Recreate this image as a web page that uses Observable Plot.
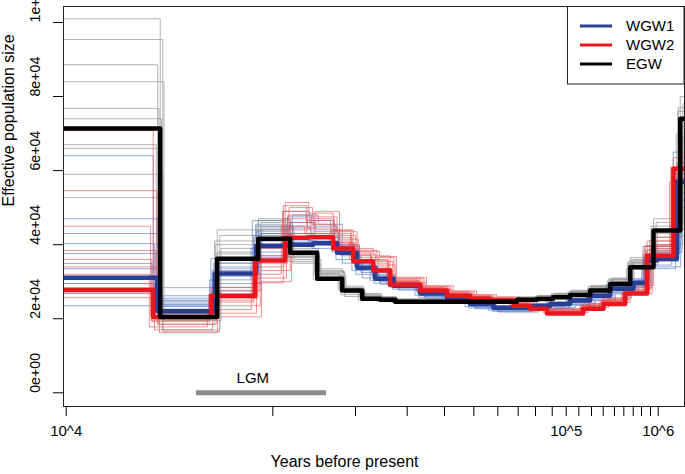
<!DOCTYPE html>
<html><head><meta charset="utf-8">
<script src="https://cdn.jsdelivr.net/npm/d3@7"></script>
<script src="https://cdn.jsdelivr.net/npm/@observablehq/plot@0.6"></script>
<style>body{margin:0;background:#fff;font-family:"Liberation Sans",Arial,sans-serif}</style>
</head><body><div id="chart"></div>
<script>
// ---- data (times in thousands of years, Ne in thousands) ----
const seriesNames = ["WGW1", "WGW2", "EGW"];
const seriesColors = ["#283f94", "#e8161d", "#000000"];
const bootColors = ["#4a72c8", "#ea4a4a", "#9a9a9a"];

const egwTimes = [1, 20.78, 32.37, 44.54, 57.11, 70.47, 85.6, 100, 115, 129.3, 333.2, 389.3, 441, 504.3, 589.3, 688.4, 804.3, 964, 1187];
const egwNe    = [71.4, 20.5, 36.2, 41.6, 37.8, 30.8, 27.6, 25.4, 25.1, 24.6, 25.1, 25.3, 25.8, 26.4, 27.6, 29.4, 33.9, 43.8, 74];

const wgw1Times = [1, 20.3, 31.75, 43.85, 55.8, 68.3, 82.34, 96.19, 110.7, 127.6, 157.1, 193.3, 231.7, 277.7, 379.1, 431.6, 504.3, 589.3, 688.4, 825.2, 915.8, 989.9, 1157];
const wgw1Ne    = [31.1, 22.0, 32.2, 39.7, 40.0, 40.4, 37.8, 33.8, 30.8, 28.9, 26.8, 25.7, 24.0, 23.0, 23.5, 24.0, 24.9, 26.2, 28.1, 29.7, 35.7, 36.2, 57];

const wgw2Times = [1, 19.67, 30.9, 43.5, 54.94, 66, 79.8, 93.24, 108.9, 124.3, 157.1, 193.3, 231.7, 270.7, 324.4, 369.5, 420.7, 558, 653.5, 773.5, 918, 1126];
const wgw2Ne    = [27.8, 20.5, 26.2, 35.7, 41.9, 42.0, 39.0, 35.5, 33.0, 29.2, 27.6, 26.2, 25.4, 24.9, 23.5, 22.7, 21.4, 22.7, 24.0, 26.8, 37.0, 60.5];

const endTime = 3000;

// bootstrap replicates: time scale of each replicate, then its Ne per interval
const egwBootScale = [1.00, 1.02, 0.98, 1.03, 0.99, 1.01, 0.97, 1.02, 1.00, 0.985];
const egwBoot = [
  [101, 28.4, 44, 47, 38.5, 33.5, 28.4, 26.5, 25.8, 25.2, 25.8, 26.2, 26.8, 27.5, 28.8, 30.8, 36.5, 47, 80],
  [95.4, 17, 42.5, 46, 37, 32.5, 28, 26, 25.5, 25, 25.5, 26, 26.5, 27.2, 28.4, 30.5, 35.7, 46, 78],
  [88.6, 18.5, 41, 45.5, 36.5, 32, 27.5, 25.8, 25.3, 24.9, 25.4, 25.8, 26.3, 27, 28.2, 30.2, 35, 45, 76],
  [84, 19.5, 39, 44.5, 36, 31.5, 27, 25.5, 25.2, 24.8, 25.3, 25.6, 26.2, 26.8, 28, 30, 34.5, 44, 75],
  [76.8, 21, 37.5, 44, 35.5, 31, 26.5, 25.2, 25, 24.6, 25.2, 25.5, 26, 26.6, 27.8, 29.6, 34, 43, 73],
  [74, 22.5, 36.5, 43, 39, 33, 28.8, 26.8, 26, 25.4, 25.9, 26.3, 26.9, 27.7, 29, 31, 36, 42, 72],
  [67, 23.5, 35, 42, 37.5, 30.5, 27.8, 25, 24.8, 24.4, 25, 25.3, 25.8, 26.4, 27.6, 29.3, 33.5, 41, 70],
  [59, 16.5, 33.5, 45, 35, 32.8, 26, 26.2, 25.6, 25.1, 25.6, 26, 26.6, 27.3, 28.6, 30.6, 35.2, 40, 69],
  [52.7, 20, 38, 46.5, 38, 31.8, 27.2, 25.6, 25.3, 24.8, 25.4, 25.7, 26.2, 26.9, 28.1, 30.1, 34.8, 39, 68],
  [66, 24.5, 40, 43.5, 36.8, 32.2, 28.2, 26.4, 25.7, 25.1, 25.6, 26.1, 26.7, 27.4, 28.7, 30.7, 35.4, 38, 77]
];

const wgw1BootScale = [0.97, 1.0, 1.02, 0.98, 1.01, 0.96, 1.03, 0.99, 1.04, 0.975];
const wgw1Boot = [
  [64, 26.2, 36.2, 46.5, 49, 46.5, 40.5, 35.7, 32.5, 30, 27.5, 26.3, 24.5, 23.5, 24, 24.5, 25.5, 27, 29, 30.8, 39.5, 39.5, 65],
  [47, 25.5, 35, 45, 47.5, 45, 40, 35, 32, 29.8, 27.3, 26, 24.3, 23.2, 23.8, 24.3, 25.3, 26.7, 28.7, 30.5, 38.5, 38.5, 62],
  [43, 24.8, 34, 44, 46, 44, 39.5, 34.5, 31.6, 29.5, 27, 25.8, 24, 23, 23.5, 24, 25, 26.4, 28.4, 30.2, 37.5, 37.5, 60],
  [40.3, 24, 33, 42.5, 44.5, 43, 39, 34, 31.2, 29.2, 26.8, 25.5, 23.8, 22.8, 23.3, 23.8, 24.8, 26.2, 28.2, 30, 36.5, 36.5, 58],
  [37.6, 23.3, 31.5, 41, 43, 42, 38.5, 33.5, 30.8, 28.9, 26.5, 25.3, 23.5, 22.5, 23, 23.5, 24.5, 25.9, 27.8, 29.6, 35.5, 35.5, 56],
  [34.9, 22.6, 30.5, 39, 42, 41, 38, 33, 30.4, 28.6, 26.3, 25, 23.3, 22.3, 22.8, 23.3, 24.3, 25.6, 27.5, 29.3, 34.5, 34.5, 54],
  [33.5, 21.5, 29.5, 38, 41, 40, 37, 32.5, 30, 28.3, 26, 24.8, 23.1, 22.1, 22.6, 23, 24, 25.3, 27.2, 29, 34, 34, 52],
  [29.5, 25, 28.5, 37, 45, 39, 36, 32, 29.6, 28, 25.8, 24.5, 22.9, 22, 22.4, 22.8, 23.8, 25, 27, 28.7, 33.5, 33.5, 50],
  [26.8, 23.8, 27.6, 43, 48, 45.5, 35, 31, 29.3, 27.7, 25.5, 24.3, 22.7, 21.8, 22.2, 22.6, 23.6, 24.8, 26.7, 28.4, 38, 38, 61],
  [23.5, 20.5, 26, 36.5, 40.5, 42.5, 39.8, 34.8, 31.5, 29.4, 27.1, 25.9, 24.1, 23.1, 23.6, 24.1, 25.1, 26.5, 28.5, 30.1, 37, 37, 59]
];

const wgw2BootScale = [1.0, 1.03, 0.98, 1.02, 0.99, 1.04, 0.97, 1.01, 1.05, 0.985];
const wgw2Boot = [
  [70.8, 22, 28.4, 39, 51.4, 48.5, 44, 39, 37, 31, 28.8, 27.4, 26.4, 25.8, 24.5, 23.8, 22.6, 24, 25.5, 28.5, 41, 63.5],
  [54.6, 21.5, 27.5, 37, 50, 47.5, 43.5, 38.5, 36.5, 30.8, 28.6, 27.2, 26.2, 25.6, 24.3, 23.6, 22.4, 23.8, 25.2, 28, 40, 62],
  [45, 20.8, 26.5, 36, 49, 46.5, 43, 38, 36, 30.5, 28.4, 27, 26, 25.4, 24.1, 23.4, 22.2, 23.6, 25, 27.6, 39.5, 61],
  [38.4, 20, 25.5, 35, 48, 45.5, 42.5, 37.5, 35.5, 30.2, 28.2, 26.8, 25.9, 25.3, 23.9, 23.2, 22, 23.4, 24.8, 27.3, 39, 60],
  [36, 19.2, 24.5, 34, 47, 44.5, 42, 37, 35, 30, 28, 26.6, 25.7, 25.1, 23.8, 23, 21.8, 23.2, 24.6, 27, 38.5, 59],
  [34, 18.5, 23.5, 33, 46, 43.5, 41.5, 36.5, 34.5, 29.8, 27.9, 26.5, 25.6, 25, 23.7, 22.9, 21.7, 23, 24.4, 26.8, 38, 58],
  [32, 17.8, 22.5, 32, 45, 43, 41, 36, 34, 29.6, 27.8, 26.4, 25.5, 24.9, 23.6, 22.8, 21.6, 22.9, 24.2, 26.6, 37.5, 57],
  [29.5, 17, 21.5, 31, 44, 47, 40.5, 35.8, 33.5, 29.4, 27.7, 26.3, 25.4, 24.8, 23.5, 22.7, 21.5, 22.8, 24.1, 26.5, 37, 56],
  [27, 16.2, 20.5, 30, 43, 49, 40, 38.2, 36.8, 31.2, 28.9, 27.5, 26.5, 25.9, 24.6, 23.9, 22.7, 24.1, 25.6, 29, 42, 64],
  [25.7, 19.6, 25, 29.7, 50.5, 42.5, 43.8, 37.2, 35.8, 30.4, 28.3, 26.9, 26, 25.4, 24, 23.3, 22.1, 23.5, 24.9, 27.8, 39.8, 60.5]
];

const xTicks = [10000, 49890, 94920, 141900, 189700, 238300, 287200, 336500, 385000, 438500, 488900, 539200, 595300, 652000, 711700, 765300, 823300, 878200, 941900, 1000000];
const xTickLabels = ["10^4", "", "", "", "", "", "", "", "", "", "10^5", "", "", "", "", "", "", "", "", "10^6"];
const yTicks = [0, 20000, 40000, 60000, 80000, 100000];
const yTickLabels = ["0e+00", "2e+04", "4e+04", "6e+04", "8e+04", "1e+05"];

const lgmStart = 27550, lgmEnd = 75740, lgmLabelX = 42700, lgmLabelY = 4000;

// ---- build tables ----
function steps(times, ne, scale, id) {
  const rows = times.map((t, i) => ({t: (i === 0 ? t : t * scale) * 1000, ne: ne[i] * 1000, id}));
  rows.push({t: endTime * 1000, ne: ne[ne.length - 1] * 1000, id});
  return rows;
}
const bootRows = (times, boots, scales, name) =>
  boots.flatMap((b, k) => steps(times, b, scales[k], name + "-" + k));

const egwBootRows = bootRows(egwTimes, egwBoot, egwBootScale, "egw");
const w1BootRows = bootRows(wgw1Times, wgw1Boot, wgw1BootScale, "w1");
const w2BootRows = bootRows(wgw2Times, wgw2Boot, wgw2BootScale, "w2");
const w1Main = steps(wgw1Times, wgw1Ne, 1, "w1");
const w2Main = steps(wgw2Times, wgw2Ne, 1, "w2");
const egwMain = steps(egwTimes, egwNe, 1, "egw");

const font = "Liberation Sans, Arial, Helvetica, sans-serif";

const svg = Plot.plot({
  width: 685, height: 474,
  marginLeft: 63, marginRight: 1, marginTop: 6, marginBottom: 68,
  style: {fontFamily: font, fontSize: "15px", background: "white", overflow: "visible"},
  x: {type: "log", domain: [9792, 1227000]},
  y: {domain: [-3700, 104320]},
  marks: [
    Plot.line(egwBootRows, {x: "t", y: "ne", z: "id", curve: "step-after", stroke: bootColors[2], strokeWidth: 1, strokeOpacity: 0.75, clip: true}),
    Plot.line(w1BootRows, {x: "t", y: "ne", z: "id", curve: "step-after", stroke: bootColors[0], strokeWidth: 1, strokeOpacity: 0.6, clip: true}),
    Plot.line(w2BootRows, {x: "t", y: "ne", z: "id", curve: "step-after", stroke: bootColors[1], strokeWidth: 1, strokeOpacity: 0.6, clip: true}),
    Plot.ruleY([0], {x1: lgmStart, x2: lgmEnd, stroke: "#8c8c8c", strokeWidth: 5}),
    Plot.text(["LGM"], {x: lgmLabelX, y: lgmLabelY, text: d => d, fontSize: 15, fill: "black"}),
    Plot.line(w1Main, {x: "t", y: "ne", curve: "step-after", stroke: seriesColors[0], strokeWidth: 4.5, clip: true}),
    Plot.line(w2Main, {x: "t", y: "ne", curve: "step-after", stroke: seriesColors[1], strokeWidth: 4.5, clip: true}),
    Plot.line(egwMain, {x: "t", y: "ne", curve: "step-after", stroke: seriesColors[2], strokeWidth: 4.5, clip: true}),
    Plot.frame({stroke: "#222"}),
    Plot.axisY({ticks: yTicks, tickSize: 10, tickFormat: () => "", label: null}),
    Plot.axisX({ticks: xTicks, tickSize: 10, tickFormat: () => "", label: null}),
    Plot.text(yTicks, {y: d => d, text: (d, i) => yTickLabels[i], frameAnchor: "left", dx: -28, rotate: -90, fontSize: 14.2, fill: "black"}),
    Plot.text(xTicks, {x: d => d, text: (d, i) => xTickLabels[i], frameAnchor: "bottom", dy: 29, fontSize: 15, fill: "black"}),
    Plot.text(["Years before present"], {text: d => d, frameAnchor: "bottom", dx: -29.5, dy: 60, fontSize: 16, fill: "black"}),
    Plot.text(["Effective population size"], {text: d => d, frameAnchor: "left", dx: -55, rotate: -90, fontSize: 16, fill: "black"})
  ]
});

// legend box (top-right, inside frame)
const lg = d3.select(svg).append("g").attr("font-family", font).attr("font-size", 15).attr("text-anchor", "start");
lg.append("rect").attr("x", 567.5).attr("y", 6.5).attr("width", 116.5).attr("height", 77.5)
  .attr("fill", "white").attr("stroke", "#222");
seriesNames.forEach((name, i) => {
  const yy = 26 + i * 19;
  lg.append("line").attr("x1", 580).attr("x2", 612).attr("y1", yy).attr("y2", yy)
    .attr("stroke", seriesColors[i]).attr("stroke-width", 3);
  lg.append("text").attr("x", 626).attr("y", yy).attr("dy", "0.35em")
    .attr("text-anchor", "start").attr("fill", "black").text(name);
});

document.getElementById("chart").appendChild(svg);
</script></body></html>
